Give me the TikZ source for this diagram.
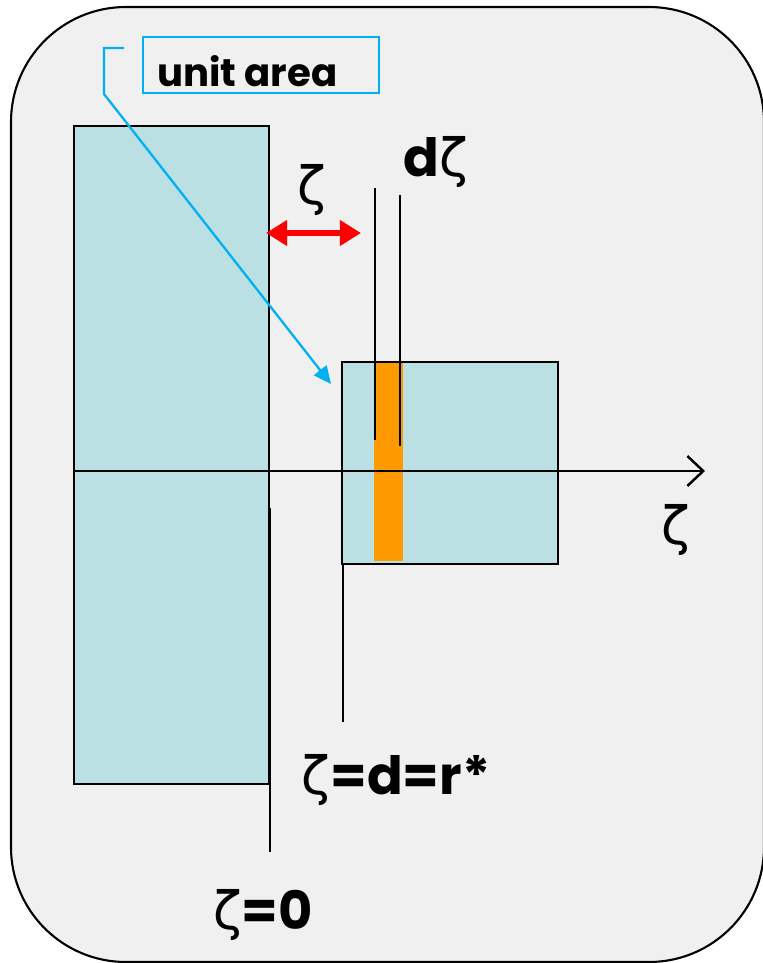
\documentclass[tikz,border=0pt]{standalone}
\usepackage{fontspec}
\setmainfont{Poppins}
\newfontfamily\zfont{DejaVu Sans}
\usetikzlibrary{arrows.meta,positioning}
\definecolor{panel}{HTML}{F0F0F0}
\definecolor{slab}{HTML}{BBE0E3}
\definecolor{strip}{HTML}{FF9900}
\definecolor{callout}{HTML}{00B0F0}
\newcommand{\zt}{{\zfont\mdseries ζ}}

\begin{document}
\begin{tikzpicture}[
    x=0.02cm, y=-0.02cm,
    font=\bfseries,
    % Styles
    slabbox/.style={draw, line width=1.3pt, fill=slab, inner sep=0pt, outer sep=0pt},
    stripbox/.style={fill=strip, inner sep=0pt, outer sep=0pt},
    guide/.style={line width=1.3pt},
    big/.style={font=\fontsize{30}{36}\selectfont\bfseries},
    gap/.style={{Stealth[length=12pt,width=14pt,inset=0pt]}-{Stealth[length=12pt,width=14pt,inset=0pt]}, line width=3pt, draw=red},
    axis/.style={-{Straight Barb[length=9pt,width=17pt,line width=1.4pt]}, line width=1.5pt},
    tag/.style={draw=callout, line width=1.3pt, inner sep=0pt, outer sep=0pt},
    pointer/.style={-{Triangle[length=10pt,width=9pt]}, line width=1.3pt, draw=callout},
]
    \useasboundingbox (0,0) rectangle (763,963);

    % Rounded panel
    \draw[fill=panel, line width=1.2pt, rounded corners=2.3cm] (11,7) rectangle (764,962);

    % Slabs
    \node[slabbox, minimum width=3.9cm, minimum height=13.16cm] (left) at (171.5,455) {};
    \node[slabbox, minimum width=4.32cm, minimum height=4.04cm] (right) at (450,463) {};
    \node[stripbox, minimum width=0.58cm, minimum height=3.96cm] (bar) at (388.5,462) {};
    \draw[line width=1.3pt] (right.north west) rectangle (right.south east);

    % Axis
    \coordinate (axisend) at (705,471);
    \draw[axis] (left.west |- axisend) -- (axisend);
    \node[big] (zax) at (676,530) {\zt};

    % Guide lines
    \coordinate (zero1) at (270,508);
    \coordinate (zero2) at (270,852);
    \draw[guide] (zero1) -- (zero2);
    \coordinate (dd1) at (343,564);
    \coordinate (dd2) at (343,722);
    \draw[guide] (dd1) -- (dd2);
    \coordinate (dz1a) at (375,188);
    \coordinate (dz1b) at (375,440);
    \coordinate (dz2a) at (400,195);
    \coordinate (dz2b) at (400,446);
    \draw[guide] (dz1a) -- (dz1b);
    \draw[guide] (dz2a) -- (dz2b);

    % Gap arrow
    \coordinate (gapl) at (266,233);
    \coordinate (gapr) at (361,233);
    \draw[gap] (gapl) -- (gapr);

    % Labels
    \node[big] (zgap) at (312,190) {\zt};
    \node[big] (dzeta) at (436,162) {d\zt};
    \node[big] (zd) at (396,780) {\zt=d=r*};
    \node[big] (z0) at (263,915) {\zt=0};

    % Callout
    \node[tag, minimum width=4.72cm, minimum height=1.12cm] (box) at (261,65) {};
    \node[anchor=west, font=\fontsize{22}{26}\selectfont\bfseries] (unit) at (151,71) {unit area};
    \coordinate (c1) at (124,48);
    \coordinate (c2) at (104,48);
    \coordinate (c3) at (104,94);
    \coordinate (tip) at (331,384);
    \draw[pointer] (c1) -- (c2) -- (c3) -- (tip);

\end{tikzpicture}
\end{document}
